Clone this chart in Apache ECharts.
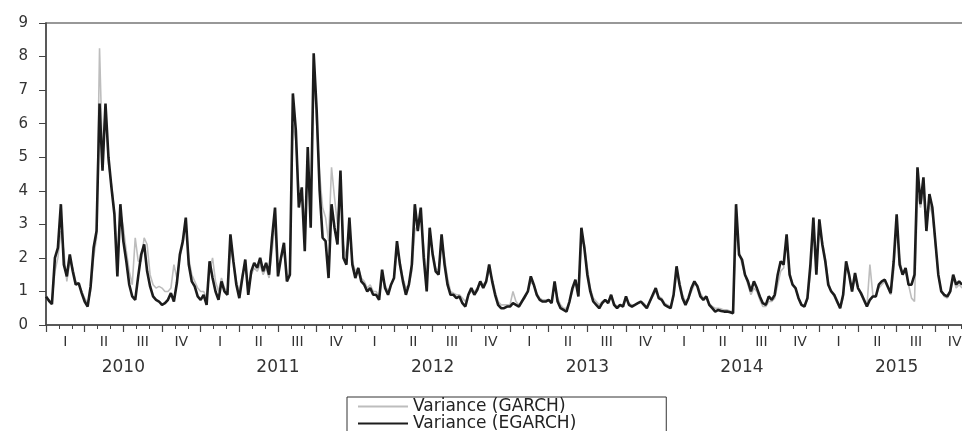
<!DOCTYPE html>
<html>
<head>
<meta charset="utf-8">
<script src="https://cdn.jsdelivr.net/npm/echarts@6/dist/echarts.min.js"></script>
<style>html,body{margin:0;padding:0;background:#fff;}#c{width:962px;height:431px;}</style>
</head>
<body>
<div id="c"></div>
<script>
// Weekly conditional variance, EGARCH (black) by year
const egarch2010 = [0.85,0.72,0.62,2.0,2.3,3.6,1.8,1.45,2.1,1.6,1.2,1.25,0.95,0.7,0.55,1.15,2.3,2.8,6.6,4.6,6.6,5.0,4.1,3.3,1.45,3.6,2.5,1.9,1.2,0.85,0.75,1.45,2.1,2.4,1.6,1.15,0.85,0.75,0.7,0.6,0.65,0.75,0.95,0.7,1.25,2.1,2.5,3.2,1.8,1.3,1.15,0.85];
const egarch2011 = [0.75,0.9,0.6,1.9,1.4,1.0,0.75,1.3,1.0,0.9,2.7,1.9,1.2,0.8,1.4,1.95,0.9,1.6,1.85,1.7,2.0,1.6,1.85,1.5,2.6,3.5,1.45,2.0,2.45,1.3,1.5,6.9,5.8,3.5,4.1,2.2,5.3,2.9,8.1,6.4,4.0,2.6,2.5,1.4,3.6,2.9,2.4,4.6,2.0,1.8,3.2,1.8];
const egarch2012 = [1.4,1.7,1.3,1.2,1.0,1.1,0.9,0.9,0.75,1.65,1.1,0.9,1.2,1.4,2.5,1.8,1.3,0.9,1.2,1.8,3.6,2.8,3.5,2.0,1.0,2.9,2.1,1.6,1.5,2.7,1.8,1.2,0.9,0.9,0.8,0.85,0.65,0.55,0.9,1.1,0.9,1.05,1.3,1.1,1.3,1.8,1.3,0.9,0.6,0.5,0.5,0.55];
const egarch2013 = [0.55,0.65,0.6,0.55,0.7,0.85,1.0,1.45,1.2,0.9,0.75,0.7,0.7,0.75,0.65,1.3,0.7,0.5,0.45,0.4,0.7,1.1,1.35,0.85,2.9,2.3,1.5,1.0,0.7,0.6,0.5,0.65,0.75,0.65,0.9,0.6,0.5,0.6,0.55,0.85,0.6,0.55,0.6,0.65,0.7,0.6,0.5,0.7,0.9,1.1,0.8,0.75];
const egarch2014 = [0.6,0.55,0.5,0.9,1.75,1.2,0.8,0.6,0.8,1.1,1.3,1.15,0.85,0.75,0.85,0.6,0.5,0.4,0.45,0.42,0.4,0.4,0.38,0.35,3.6,2.1,1.95,1.5,1.3,1.0,1.3,1.1,0.85,0.65,0.6,0.85,0.75,0.9,1.5,1.9,1.8,2.7,1.5,1.2,1.1,0.8,0.6,0.55,0.8,1.8,3.2,1.5];
const egarch2015 = [3.15,2.4,1.9,1.2,1.0,0.9,0.7,0.5,0.9,1.9,1.5,1.0,1.55,1.1,0.95,0.75,0.55,0.75,0.85,0.85,1.2,1.3,1.35,1.15,0.95,1.9,3.3,1.8,1.5,1.7,1.2,1.2,1.5,4.7,3.6,4.4,2.8,3.9,3.5,2.5,1.5,1.0,0.9,0.85,1.0,1.5,1.2,1.3,1.2];

// Weekly conditional variance, GARCH (grey) by year
const garch2010 = [0.85,0.75,0.7,1.6,2.0,2.8,2.2,1.3,1.9,1.7,1.3,1.2,1.0,0.8,0.65,1.0,2.0,2.6,8.25,5.0,6.5,4.8,4.2,3.4,2.0,3.4,2.9,2.2,1.6,1.2,2.6,1.9,1.9,2.6,2.4,1.5,1.2,1.1,1.15,1.1,1.0,1.0,1.1,1.8,1.4,2.0,2.4,3.0,2.0,1.5,1.3,1.1];
const garch2011 = [1.0,1.0,0.8,1.6,2.0,1.3,1.0,1.4,1.1,1.0,2.3,1.9,1.3,1.0,1.5,1.8,1.1,1.5,1.7,1.6,1.8,1.5,1.7,1.4,2.2,3.0,1.6,2.0,2.2,1.5,1.5,6.0,5.5,4.0,4.0,3.0,4.8,3.5,7.5,6.0,4.5,3.5,3.2,2.5,4.7,3.8,3.0,4.2,2.4,2.0,2.8,1.9];
const garch2012 = [1.6,1.7,1.4,1.3,1.1,1.2,1.0,1.0,0.85,1.4,1.2,1.0,1.2,1.4,2.2,1.9,1.4,1.1,1.2,1.6,2.8,3.0,3.2,2.3,1.4,2.5,2.2,1.7,1.6,2.5,2.0,1.4,1.0,0.95,0.9,0.9,0.8,0.7,0.9,1.0,1.0,1.1,1.3,1.2,1.3,1.6,1.4,1.0,0.7,0.6,0.6,0.6];
const garch2013 = [0.6,1.0,0.7,0.6,0.7,0.8,1.0,1.3,1.2,0.95,0.8,0.75,0.75,0.75,0.7,1.2,0.8,0.6,0.5,0.5,0.7,1.0,1.3,0.9,2.5,2.4,1.7,1.1,0.8,0.7,0.6,0.7,0.75,0.7,0.85,0.65,0.55,0.6,0.6,0.8,0.65,0.6,0.6,0.65,0.7,0.65,0.55,0.7,0.85,1.0,0.85,0.8];
const garch2014 = [0.65,0.6,0.55,0.85,1.5,1.3,0.9,0.7,0.8,1.0,1.2,1.2,0.95,0.8,0.85,0.65,0.55,0.5,0.5,0.48,0.45,0.45,0.42,0.4,2.8,2.2,1.8,1.5,1.2,0.9,1.1,1.0,0.75,0.55,0.55,0.7,0.7,0.8,1.2,1.6,1.7,2.5,1.6,1.2,1.1,0.8,0.6,0.6,0.75,1.5,2.8,1.8];
const garch2015 = [2.8,2.5,2.0,1.3,1.0,0.85,0.65,0.5,0.8,1.7,1.5,1.0,1.4,1.1,0.9,0.7,0.55,1.8,0.9,0.85,1.1,1.2,1.3,1.1,0.9,1.6,2.9,2.0,1.5,1.6,1.2,0.8,0.7,3.9,3.5,4.0,2.9,3.6,3.3,2.4,1.5,1.0,0.85,0.8,0.95,1.4,1.1,1.2,1.1];

// Axis labels
const quarterNames = ['I','II','III','IV'];
const years = ['2010','2011','2012','2013','2014','2015'];
const seriesNames = ['Variance (GARCH)','Variance (EGARCH)'];

const egarch = [].concat(egarch2010, egarch2011, egarch2012, egarch2013, egarch2014, egarch2015);
const garch = [].concat(garch2010, garch2011, garch2012, garch2013, garch2014, garch2015);
// x position in months since Jan 2010 (weekly observations)
const toPairs = arr => arr.map((v, i) => [i * 12 / 52, v]);
const quarterCats = [];
years.forEach(() => quarterNames.forEach(q => quarterCats.push(q)));

const font = 'DejaVu Sans, Liberation Sans, Arial, sans-serif';
const axisColor = '#444';

const chart = echarts.init(document.getElementById('c'));
chart.setOption({
  animation: false,
  backgroundColor: '#ffffff',
  grid: { left: 46, width: 928, top: 23, height: 302, show: true, borderColor: '#777', borderWidth: 1.5,
          backgroundColor: 'transparent', containLabel: false, outerBoundsMode: 'none' },
  xAxis: [
    { type: 'value', min: 0, max: 72, interval: 1,
      axisLine: { show: true, onZero: false, lineStyle: { color: axisColor, width: 1.5 } },
      axisTick: { show: true, length: 4, lineStyle: { color: axisColor, width: 1 } },
      axisLabel: { show: false }, splitLine: { show: false } },
    { type: 'category', position: 'bottom', data: quarterCats, boundaryGap: true,
      axisLine: { show: false },
      axisTick: { show: true, length: 7, interval: 0, lineStyle: { color: axisColor, width: 1.2 } },
      axisLabel: { interval: 0, margin: 10, fontSize: 14, color: '#333', fontFamily: font },
      splitLine: { show: false } },
    { type: 'category', position: 'bottom', data: years, boundaryGap: true,
      axisLine: { show: false }, axisTick: { show: false },
      axisLabel: { interval: 0, margin: 34, fontSize: 17, color: '#333', fontFamily: font },
      splitLine: { show: false } }
  ],
  yAxis: { type: 'value', min: 0, max: 9, interval: 1,
    axisLine: { show: true, lineStyle: { color: axisColor, width: 1.5 } },
    axisTick: { show: true, length: 7, lineStyle: { color: axisColor } },
    axisLabel: { margin: 18, fontSize: 15, color: '#333', fontFamily: font },
    splitLine: { show: false } },
  legend: {
    left: 347, top: 397, width: 400, height: 80, orient: 'vertical',
    itemWidth: 50, itemHeight: 2, itemGap: 0,
    padding: [1, 90, 3, 11],
    borderColor: '#333', borderWidth: 1, backgroundColor: '#fff',
    textStyle: { fontSize: 17, color: '#222', fontFamily: font, lineHeight: 16 },
    data: [{ name: seriesNames[0], icon: 'rect' }, { name: seriesNames[1], icon: 'rect' }]
  },
  series: [
    { type: 'line', name: seriesNames[0], data: toPairs(garch), symbol: 'none', xAxisIndex: 0,
      lineStyle: { color: '#bdbdbd', width: 1.6 }, itemStyle: { color: '#bdbdbd' }, z: 2 },
    { type: 'line', name: seriesNames[1], data: toPairs(egarch), symbol: 'none', xAxisIndex: 0,
      lineStyle: { color: '#1c1c1c', width: 2.6 }, itemStyle: { color: '#1c1c1c' }, z: 3 }
  ]
});
</script>
</body>
</html>
